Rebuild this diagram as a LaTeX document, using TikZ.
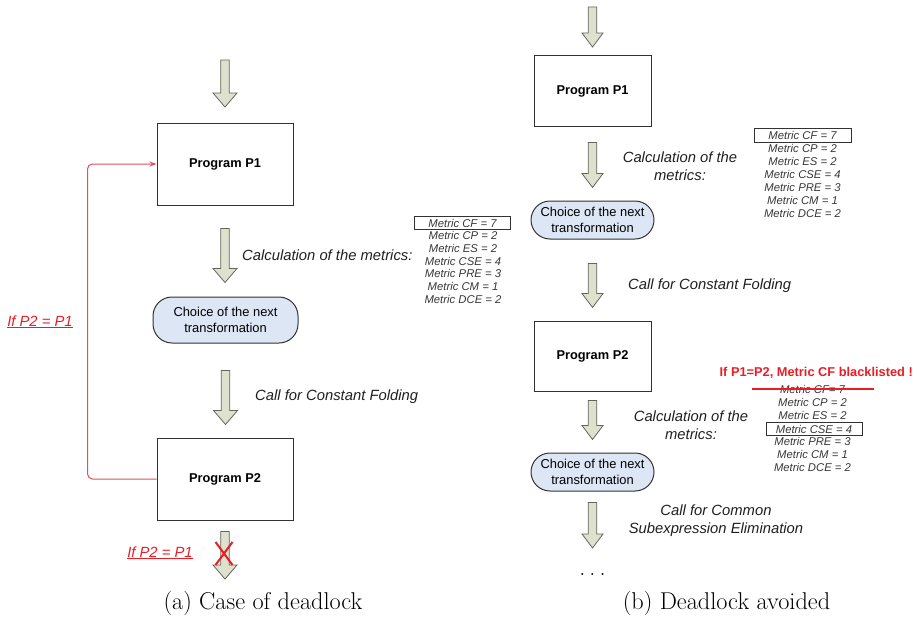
\documentclass[tikz,border=0pt]{standalone}
\usepackage{fontspec}
\newfontfamily\arial{Liberation Sans}
\usetikzlibrary{calc,arrows.meta}

\definecolor{arrowfill}{RGB}{222,225,206}
\definecolor{arrowline}{RGB}{100,103,88}
\definecolor{choicefill}{RGB}{221,230,245}
\definecolor{boxline}{RGB}{50,50,50}
\definecolor{alertred}{RGB}{236,28,36}
\definecolor{loopred}{RGB}{228,78,84}
\definecolor{metrictext}{RGB}{55,55,55}

% block arrow pointing down: [head half width]{top centre}{tip}
\newcommand{\blkarrow}[3][12]{%
  \draw[blockarrow] let \p1=(#2), \p2=(#3) in
    (\x1-4.3pt,\y1) -- (\x1+4.3pt,\y1) -- (\x1+4.3pt,\y2+14pt)
    -- (\x1+#1pt,\y2+14pt) -- (\x1,\y2) -- (\x1-#1pt,\y2+14pt)
    -- (\x1-4.3pt,\y2+14pt) -- cycle;}

\tikzset{
  blockarrow/.style={draw=arrowline, fill=arrowfill, line width=0.8pt, line join=miter},
  prog/.style={draw=boxline, line width=1pt, fill=white, inner sep=0pt,
    font=\arial\bfseries\fontsize{12.8}{15}\selectfont},
  choice/.style={draw=boxline, line width=1pt, fill=choicefill, rounded corners=19pt,
    inner sep=0pt, align=center, font=\arial\fontsize{12.9}{15.5}\selectfont},
  lab/.style={inner sep=0pt, align=center, text=black!88,
    font=\arial\itshape\fontsize{14.8}{18}\selectfont},
  metric/.style={inner sep=0pt, text=metrictext,
    font=\arial\itshape\fontsize{11.3}{13}\selectfont},
  metricbox/.style={metric, draw=boxline, line width=0.8pt, minimum width=96pt, minimum height=13pt},
  cond/.style={inner sep=0pt, text=alertred,
    font=\arial\itshape\fontsize{14.8}{18}\selectfont},
  warn/.style={inner sep=0pt, text=alertred,
    font=\arial\bfseries\fontsize{12.8}{15}\selectfont},
  loopline/.style={draw=loopred, line width=1pt, rounded corners=5pt,
    -{Stealth[length=7pt,width=5pt]}},
  caption/.style={inner sep=0pt, font=\fontsize{24.3}{28}\selectfont},
}

\begin{document}
\begin{tikzpicture}[x=1pt,y=-1pt]
\useasboundingbox (0,0) rectangle (917,618);

% ---------------- (a) case of deadlock ----------------
\node[prog, minimum width=136pt, minimum height=82pt] (lp1) at (225,164) {Program P1};
\node[choice, minimum width=145pt, minimum height=46pt] (lch) at (225.5,320) {Choice of the next\\transformation};
\node[prog, minimum width=136pt, minimum height=82pt] (lp2) at (225,479) {Program P2};

\coordinate (la0s) at (225,60);
\coordinate (la0e) at (225,107);
\coordinate (la3e) at (225,579);
\blkarrow{la0s}{la0e}
\blkarrow{$(lp1.south)+(0,23)$}{$(lch.north)+(0,-14)$}
\blkarrow{$(lch.south)+(0,27)$}{$(lp2.north)+(0,-13)$}
\blkarrow{$(lp2.south)+(0,11)$}{la3e}

\node[lab, anchor=base west] (lcalc) at (242,260) {Calculation of the metrics:};
\node[lab, anchor=base west] (lcall) at (255,400) {Call for Constant Folding};

% feedback loop from P2 back to P1
\draw[loopline] (lp2.west) -- ++(-69,0) |- (lp1.west);
\node[cond, anchor=base] (lif1) at (40,326) {\underline{If P2 = P1}};
\node[cond, anchor=base] (lif2) at (160,557) {\underline{If P2 = P1}};

% forbidden exit
\coordinate (lx) at (224,553.5);
\draw[alertred, line width=2pt] ($(lx)+(-8.5,-11.5)$) -- ($(lx)+(8.5,11.5)$);
\draw[alertred, line width=2pt] ($(lx)+(8.5,-11.5)$) -- ($(lx)+(-8.5,11.5)$);

% metrics
\node[metricbox] (lm1) at (462.5,223) {Metric CF = 7};
\node[metric] (lm2) at (463,235.7) {Metric CP = 2};
\node[metric] (lm3) at (463,248.4) {Metric ES = 2};
\node[metric] (lm4) at (463,261.1) {Metric CSE = 4};
\node[metric] (lm5) at (463,273.8) {Metric PRE = 3};
\node[metric] (lm6) at (463,286.5) {Metric CM = 1};
\node[metric] (lm7) at (463,299.2) {Metric DCE = 2};

% ---------------- (b) deadlock avoided ----------------
\node[prog, minimum width=117pt, minimum height=70pt] (rp1) at (592.5,91) {Program P1};
\node[choice, minimum width=123pt, minimum height=38pt] (rch1) at (592.5,220) {Choice of the next\\transformation};
\node[prog, minimum width=117pt, minimum height=70pt] (rp2) at (592.5,356) {Program P2};
\node[choice, minimum width=123pt, minimum height=38pt] (rch2) at (592.5,472) {Choice of the next\\transformation};
\node[caption, anchor=base] (dots) at (592.5,575.5) {.\kern4pt.\kern4pt.};

\coordinate (rb0s) at (592.5,7);
\coordinate (rb0e) at (592.5,47);
\coordinate (rb4e) at (592.5,548);
\blkarrow[10.5]{rb0s}{rb0e}
\blkarrow[10.5]{$(rp1.south)+(0,16)$}{$(rch1.north)+(0,-13)$}
\blkarrow[10.5]{$(rch1.south)+(0,24)$}{$(rp2.north)+(0,-13)$}
\blkarrow[10.5]{$(rp2.south)+(0,9)$}{$(rch2.north)+(0,-13)$}
\blkarrow[10.5]{$(rch2.south)+(0,11)$}{rb4e}

\node[lab] (rcalc1) at (680,166) {Calculation of the\\metrics:};
\node[lab, anchor=base west] (rcall1) at (628,289) {Call for Constant Folding};
\node[lab] (rcalc2) at (691,425) {Calculation of the\\metrics:};
\node[lab] (rcall2) at (716,521) {Call for Common\\Subexpression Elimination};

% metrics before the loop check
\node[metricbox, minimum height=14pt, minimum width=97pt] (rm1) at (802.5,135) {Metric CF = 7};
\node[metric] (rm2) at (802.5,148.9) {Metric CP = 2};
\node[metric] (rm3) at (802.5,161.7) {Metric ES = 2};
\node[metric] (rm4) at (802.5,174.6) {Metric CSE = 4};
\node[metric] (rm5) at (802.5,187.4) {Metric PRE = 3};
\node[metric] (rm6) at (802.5,200.3) {Metric CM = 1};
\node[metric] (rm7) at (802.5,213.1) {Metric DCE = 2};

% metrics after blacklisting
\node[warn, anchor=base east] (rwarn) at (913,376) {If P1=P2, Metric CF blacklisted !};
\node[metric] (sm1) at (812.5,389) {Metric CF= 7};
\draw[alertred, line width=1.3pt] ($(sm1.center)+(-60.5,0)$) -- ($(sm1.center)+(61.5,0)$);
\node[metric] (sm2) at (812.5,402.5) {Metric CP = 2};
\node[metric] (sm3) at (812.5,415.5) {Metric ES = 2};
\node[metricbox] (sm4) at (814,429) {Metric CSE = 4};
\node[metric] (sm5) at (812.5,441.8) {Metric PRE = 3};
\node[metric] (sm6) at (812.5,454.6) {Metric CM = 1};
\node[metric] (sm7) at (812.5,467.4) {Metric DCE = 2};

% sub-captions
\node[caption, anchor=base] (capa) at (263,609) {(a)\ Case of deadlock};
\node[caption, anchor=base] (capb) at (726.5,609) {(b)\ Deadlock avoided};
\end{tikzpicture}
\end{document}
